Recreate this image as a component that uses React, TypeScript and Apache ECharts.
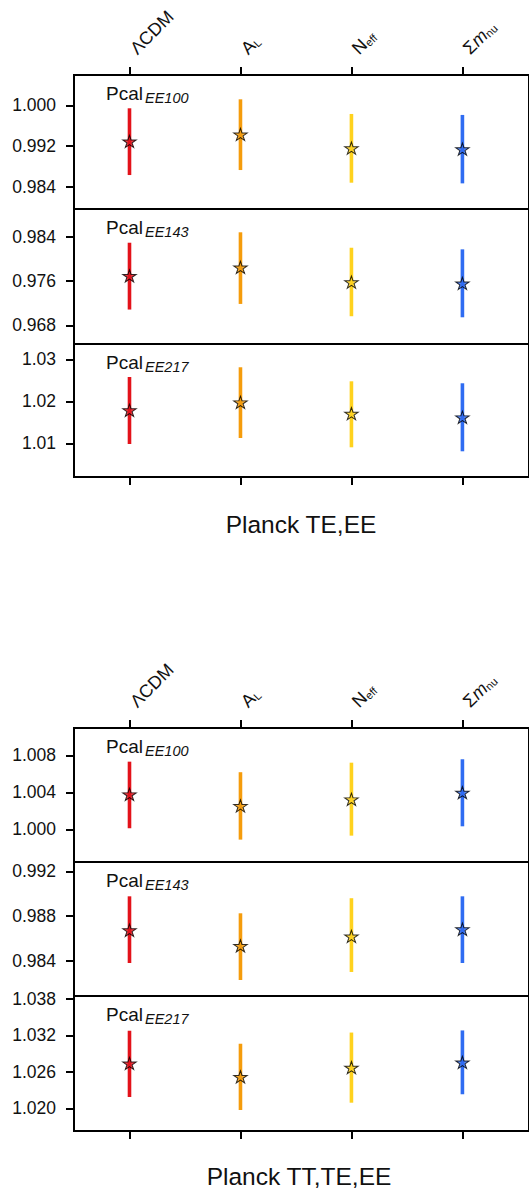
import React, { useEffect, useRef } from "react";
import * as echarts from "echarts";

// ---------- data ----------
const catMain = ["ΛCDM", "A", "N", "Σ"];
const catItalic = ["", "", "", "m"];
const catSub = ["", "L", "eff", "nu"];
const COLORS = ["#e3121a", "#f59c0c", "#ffd21e", "#2f6cf2"];

// Planck TE,EE
const teee100Center = [0.99292, 0.99428, 0.99161, 0.99141];
const teee100Low = [0.98634, 0.98732, 0.98484, 0.98471];
const teee100High = [0.99941, 1.00117, 0.9983, 0.99811];
const teee143Center = [0.97696, 0.97849, 0.97582, 0.97558];
const teee143Low = [0.97085, 0.97187, 0.96964, 0.96945];
const teee143High = [0.98296, 0.98485, 0.98205, 0.98176];
const teee217Center = [1.01786, 1.01976, 1.01705, 1.01619];
const teee217Low = [1.00983, 1.01126, 1.00905, 1.0081];
const teee217High = [1.02579, 1.0281, 1.02476, 1.02429];

// Planck TT,TE,EE
const ttteee100Center = [1.00378, 1.00252, 1.00324, 1.00396];
const ttteee100Low = [1.00011, 0.99888, 0.99931, 1.00032];
const ttteee100High = [1.00731, 1.00617, 1.0072, 1.00757];
const ttteee143Center = [0.98672, 0.98532, 0.98617, 0.98681];
const ttteee143Low = [0.98379, 0.98227, 0.98299, 0.98379];
const ttteee143High = [0.98976, 0.98824, 0.98959, 0.98976];
const ttteee217Center = [1.02738, 1.02518, 1.0267, 1.02755];
const ttteee217Low = [1.02186, 1.01972, 1.02092, 1.02231];
const ttteee217High = [1.03277, 1.03063, 1.03247, 1.03282];

// tick labels
const ticksTeee100 = [0.984, 0.992, 1.0];
const ticksTeee143 = [0.968, 0.976, 0.984];
const ticksTeee217 = [1.01, 1.02, 1.03];
const ticksTtteee100 = [1.0, 1.004, 1.008];
const ticksTtteee143 = [0.984, 0.988, 0.992];
const ticksTtteee217 = [1.02, 1.026, 1.032, 1.038];

const panelNames = ["EE100", "EE143", "EE217"];
const figureTitles = ["Planck TE,EE", "Planck TT,TE,EE"];

// ---------- layout ----------
const W = 529;
const H = 1191;
const LEFT = 74;
const UNIT = 112.5;
const XMIN = -0.5;
const XMAX = 3.6;
const FONT = "'Liberation Sans', Arial, sans-serif";
const INK = "#111";

const STAR =
  "path://M0,-10L2.245,-3.09L9.51,-3.09L3.633,1.18L5.878,8.09L0,3.82L-5.878,8.09L-3.633,1.18L-9.51,-3.09L-2.245,-3.09Z";

type Panel = {
  top: number;
  height: number;
  min: number;
  max: number;
  ticks: number[];
  dec: number;
  name: string;
  center: number[];
  low: number[];
  high: number[];
  axisTop: boolean;
  axisBottom: boolean;
};

const panels: Panel[] = [
  { top: 75, height: 134, min: 0.97969, max: 1.00593, ticks: ticksTeee100, dec: 3, name: panelNames[0], center: teee100Center, low: teee100Low, high: teee100High, axisTop: true, axisBottom: false },
  { top: 209, height: 135, min: 0.96461, max: 0.98907, ticks: ticksTeee143, dec: 3, name: panelNames[1], center: teee143Center, low: teee143Low, high: teee143High, axisTop: false, axisBottom: false },
  { top: 344, height: 133, min: 1.00198, max: 1.03364, ticks: ticksTeee217, dec: 2, name: panelNames[2], center: teee217Center, low: teee217Low, high: teee217High, axisTop: false, axisBottom: true },
  { top: 728, height: 134, min: 0.99646, max: 1.01095, ticks: ticksTtteee100, dec: 3, name: panelNames[0], center: ttteee100Center, low: ttteee100Low, high: ttteee100High, axisTop: true, axisBottom: false },
  { top: 862, height: 134, min: 0.98084, max: 0.99283, ticks: ticksTtteee143, dec: 3, name: panelNames[1], center: ttteee143Center, low: ttteee143Low, high: ttteee143High, axisTop: false, axisBottom: false },
  { top: 996, height: 135, min: 1.01626, max: 1.03849, ticks: ticksTtteee217, dec: 3, name: panelNames[2], center: ttteee217Center, low: ttteee217Low, high: ttteee217High, axisTop: false, axisBottom: true },
];

const titlePos = [
  { x: 301, y: 524 },
  { x: 299, y: 1176 },
];

const catRich = {
  m: { fontFamily: FONT, fontSize: 18, fill: INK, lineHeight: 20, verticalAlign: "bottom" },
  i: { fontFamily: FONT, fontSize: 18, fontStyle: "italic", fill: INK, lineHeight: 20, verticalAlign: "bottom" },
  s: { fontFamily: FONT, fontSize: 11, fill: INK, lineHeight: 9, verticalAlign: "bottom" },
};

function catLabel(i: number) {
  let t = `{m|${catMain[i]}}`;
  if (catItalic[i]) t += `{i|${catItalic[i]}}`;
  if (catSub[i]) t += `{s|${catSub[i]}}`;
  return t;
}

function buildOption() {
  const catIdx = catMain.map((_, i) => i);
  const grid: any[] = [];
  const xAxis: any[] = [];
  const yAxis: any[] = [];
  const series: any[] = [];

  panels.forEach((p, k) => {
    grid.push({
      left: LEFT,
      top: p.top,
      width: (XMAX - XMIN) * UNIT,
      height: p.height,
      show: true,
      borderColor: "#000",
      borderWidth: 2,
      backgroundColor: "transparent",
    });
    const showTicks = p.axisTop || p.axisBottom;
    xAxis.push({
      type: "value",
      gridIndex: k,
      min: XMIN,
      max: XMAX,
      position: p.axisTop ? "top" : "bottom",
      axisLine: { show: false, onZero: false },
      splitLine: { show: false },
      axisTick: {
        show: showTicks,
        length: 8,
        customValues: catIdx,
        lineStyle: { color: "#000", width: 2 },
      },
      axisLabel: { show: false },
    });
    yAxis.push({
      type: "value",
      gridIndex: k,
      min: p.min,
      max: p.max,
      position: "left",
      axisLine: { show: false, onZero: false },
      splitLine: { show: false },
      axisTick: {
        show: true,
        length: 8,
        customValues: p.ticks,
        lineStyle: { color: "#000", width: 2 },
      },
      axisLabel: {
        customValues: p.ticks,
        margin: 18,
        fontFamily: FONT,
        fontSize: 17.5,
        color: INK,
        formatter: (v: number) => v.toFixed(p.dec),
      },
    });
    series.push({
      type: "custom",
      xAxisIndex: k,
      yAxisIndex: k,
      silent: true,
      z: 2,
      encode: { x: 0, y: [1, 2] },
      data: p.center.map((_, i) => [i, p.low[i], p.high[i]]),
      renderItem: (params: any, api: any) => {
        const x = api.value(0);
        const a = api.coord([x, api.value(1)]);
        const b = api.coord([x, api.value(2)]);
        return {
          type: "line",
          shape: { x1: a[0], y1: a[1], x2: b[0], y2: b[1] },
          style: { stroke: COLORS[params.dataIndex], lineWidth: 3.6, lineCap: "butt" },
        };
      },
    });
    series.push({
      type: "scatter",
      xAxisIndex: k,
      yAxisIndex: k,
      silent: true,
      z: 5,
      symbol: STAR,
      symbolSize: [13.5, 12.8],
      symbolKeepAspect: true,
      data: p.center.map((v, i) => ({ value: [i, v], itemStyle: { color: COLORS[i] } })),
      itemStyle: { borderColor: "#000", borderWidth: 1 },
    });
  });

  return {
    animation: false,
    backgroundColor: "#fff",
    textStyle: { fontFamily: FONT },
    grid,
    xAxis,
    yAxis,
    series,
  };
}

function buildGraphic(chart: any) {
  const graphic: any[] = [];
  panels.forEach((p, k) => {
    graphic.push({
      type: "text",
      silent: true,
      style: {
        text: "Pcal",
        x: 106,
        y: p.top + 18,
        fontFamily: FONT,
        fontSize: 19,
        fill: INK,
        align: "left",
        verticalAlign: "middle",
      },
    });
    graphic.push({
      type: "text",
      silent: true,
      style: {
        text: p.name,
        x: 145,
        y: p.top + 23,
        fontFamily: FONT,
        fontSize: 14.5,
        fontStyle: "italic",
        fill: INK,
        align: "left",
        verticalAlign: "middle",
      },
    });
    if (p.axisTop) {
      catMain.forEach((_, i) => {
        const px = chart.convertToPixel({ xAxisIndex: k }, i);
        graphic.push({
          type: "text",
          silent: true,
          x: px + 10,
          y: p.top - 17.5,
          rotation: Math.PI / 4,
          style: {
            text: catLabel(i),
            rich: catRich,
            fontFamily: FONT,
            fontSize: 18,
            fill: INK,
            align: "left",
            verticalAlign: "bottom",
          },
        });
      });
    }
  });

  figureTitles.forEach((t, j) => {
    graphic.push({
      type: "text",
      silent: true,
      style: {
        text: t,
        x: titlePos[j].x,
        y: titlePos[j].y,
        fontFamily: FONT,
        fontSize: 24.5,
        fill: INK,
        align: "center",
        verticalAlign: "middle",
      },
    });
  });
  return graphic;
}

export default function App() {
  const ref = useRef<HTMLDivElement>(null);
  useEffect(() => {
    if (!ref.current) return;
    const chart = echarts.init(ref.current, undefined, { renderer: "svg" });
    chart.setOption(buildOption() as any);
    chart.setOption({ graphic: buildGraphic(chart) } as any);
    return () => chart.dispose();
  }, []);
  return (
    <div
      ref={ref}
      style={{ position: "fixed", left: 0, top: 0, width: W, height: H, background: "#fff" }}
    />
  );
}
